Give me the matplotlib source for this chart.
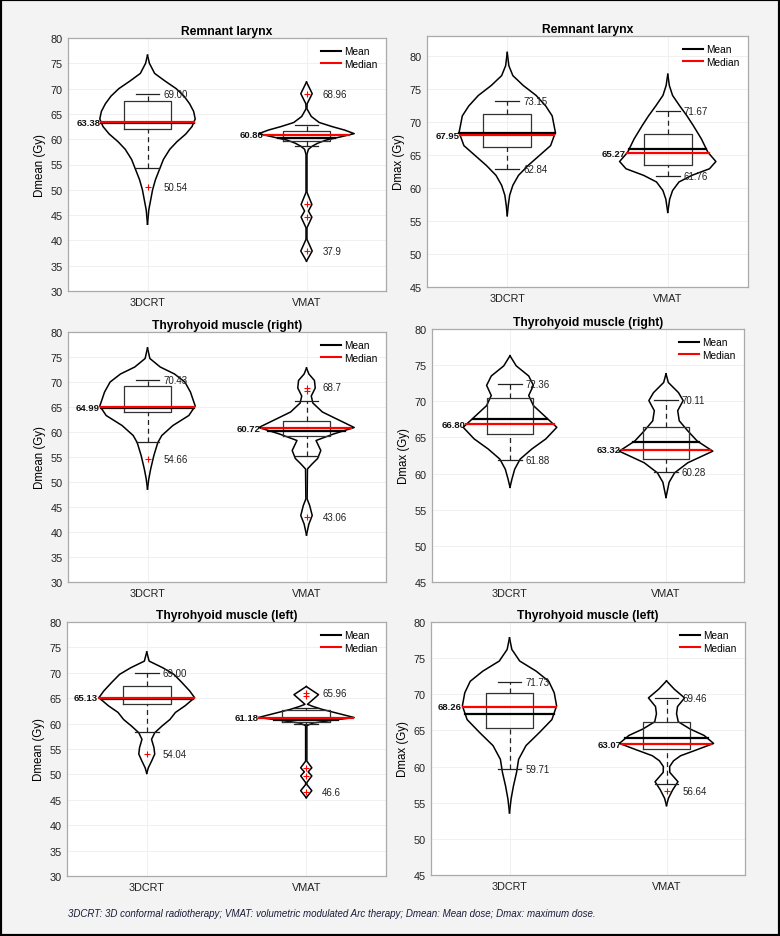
import numpy as np
import matplotlib.pyplot as plt
from matplotlib.lines import Line2D
from matplotlib.patches import Rectangle

plt.rcParams['font.family'] = ['Liberation Sans', 'DejaVu Sans']

groups = ['3DCRT', 'VMAT']
titles = ['Remnant larynx', 'Remnant larynx',
          'Thyrohyoid muscle (right)', 'Thyrohyoid muscle (right)',
          'Thyrohyoid muscle (left)', 'Thyrohyoid muscle (left)']
ylabels = ['Dmean (Gy)', 'Dmax (Gy)'] * 3
caption = ('3DCRT: 3D conformal radiotherapy; VMAT: volumetric modulated Arc therapy; '
           'Dmean: Mean dose; Dmax: maximum dose.')

# violin outlines: dose (Gy) and half width (x units)
# box lists: q1, median, q3, mean, lower whisker, upper whisker
lar_mean_3d_y = [76.6, 75.0, 73.0, 71.5, 70.0, 68.5, 67.0, 65.5, 64.0, 62.5, 61.0, 59.5, 58.0, 56.0, 54.0, 52.0, 50.0, 48.0, 46.0, 43.2]
lar_mean_3d_w = [0, 0.012, 0.045, 0.11, 0.18, 0.23, 0.265, 0.29, 0.30, 0.28, 0.24, 0.185, 0.14, 0.10, 0.075, 0.05, 0.032, 0.02, 0.008, 0]
lar_mean_3d_box = [62.0, 63.38, 67.6, 63.2, 54.3, 69.0]
lar_mean_3d_out = [50.54]
lar_mean_vm_y = [71.3, 69.0, 67.0, 66.0, 64.5, 63.3, 62.5, 61.8, 61.1, 60.5, 59.8, 59.2, 58.6, 58.0, 57.0, 49.5, 47.1, 45.8, 44.6, 42.5, 40.2, 37.9, 35.9]
lar_mean_vm_w = [0, 0.036, 0.004, 0.003, 0.03, 0.08, 0.16, 0.24, 0.30, 0.22, 0.12, 0.07, 0.035, 0.012, 0.003, 0.003, 0.034, 0.012, 0.034, 0.003, 0.003, 0.036, 0]
lar_mean_vm_box = [59.6, 60.86, 61.6, 60.2, 58.6, 62.8]
lar_mean_vm_out = [68.96, 47.1, 44.6, 37.9]

lar_max_3d_y = [80.5, 78.5, 77.0, 75.5, 74.0, 72.4, 70.9, 68.4, 66.4, 64.9, 63.4, 61.9, 60.4, 58.9, 57.3, 55.8]
lar_max_3d_w = [0, 0.01, 0.035, 0.10, 0.18, 0.24, 0.28, 0.30, 0.27, 0.20, 0.13, 0.07, 0.035, 0.015, 0.006, 0]
lar_max_3d_box = [66.25, 67.95, 71.2, 68.3, 62.84, 73.15]
lar_max_3d_out = []
lar_max_vm_y = [77.2, 75.5, 74.0, 72.4, 70.9, 69.4, 67.4, 65.4, 64.0, 62.9, 61.9, 60.9, 59.6, 58.3, 56.3]
lar_max_vm_w = [0, 0.01, 0.03, 0.075, 0.12, 0.16, 0.21, 0.25, 0.30, 0.26, 0.15, 0.07, 0.03, 0.012, 0]
lar_max_vm_box = [63.5, 65.27, 68.2, 65.9, 61.76, 71.67]
lar_max_vm_out = []

thr_mean_3d_y = [76.8, 74.7, 73.0, 71.6, 70.0, 68.0, 65.2, 63.3, 61.3, 59.3, 57.9, 55.3, 52.6, 50.6, 48.6]
thr_mean_3d_w = [0, 0.015, 0.08, 0.17, 0.235, 0.27, 0.30, 0.26, 0.16, 0.09, 0.065, 0.04, 0.02, 0.008, 0]
thr_mean_3d_box = [64.0, 64.99, 69.2, 64.9, 58.1, 70.43]
thr_mean_3d_out = [54.66]
thr_mean_vm_y = [72.8, 71.6, 70.3, 68.8, 67.2, 65.8, 64.0, 62.6, 60.9, 59.6, 58.3, 56.3, 54.7, 53.6, 52.6, 46.6, 45.3, 43.3, 41.6, 39.4]
thr_mean_vm_w = [0, 0.015, 0.05, 0.055, 0.03, 0.04, 0.10, 0.19, 0.30, 0.17, 0.06, 0.09, 0.07, 0.035, 0.006, 0.004, 0.02, 0.036, 0.015, 0]
thr_mean_vm_box = [59.3, 60.72, 62.3, 60.3, 55.3, 66.3]
thr_mean_vm_out = [68.9, 68.2, 43.06]

thr_max_3d_y = [76.3, 74.9, 73.5, 72.2, 70.8, 69.4, 68.0, 66.4, 64.8, 63.4, 62.0, 60.6, 59.2, 58.1]
thr_max_3d_w = [0, 0.04, 0.12, 0.15, 0.12, 0.15, 0.22, 0.30, 0.23, 0.14, 0.065, 0.03, 0.012, 0]
thr_max_3d_box = [65.45, 66.80, 70.5, 67.6, 61.88, 72.36]
thr_max_3d_out = []
thr_max_vm_y = [73.8, 72.6, 71.2, 70.1, 68.7, 67.3, 65.9, 64.5, 63.1, 61.5, 60.1, 58.8, 56.7]
thr_max_vm_w = [0, 0.015, 0.08, 0.11, 0.075, 0.085, 0.14, 0.20, 0.30, 0.14, 0.055, 0.02, 0]
thr_max_vm_box = [62.0, 63.32, 66.4, 64.3, 60.28, 70.11]
thr_max_vm_out = []

thl_mean_3d_y = [74.1, 72.3, 71.0, 69.7, 68.1, 66.4, 65.1, 63.5, 62.2, 60.8, 59.5, 58.2, 56.9, 55.3, 54.0, 52.6, 51.3, 50.2]
thl_mean_3d_w = [0, 0.015, 0.10, 0.17, 0.22, 0.27, 0.30, 0.24, 0.18, 0.145, 0.095, 0.05, 0.03, 0.045, 0.05, 0.03, 0.01, 0]
thl_mean_3d_box = [63.8, 65.13, 67.4, 64.8, 58.35, 69.9]
thl_mean_3d_out = [54.04]
thl_mean_vm_y = [67.3, 65.7, 63.8, 63.4, 62.8, 62.0, 61.2, 60.6, 60.1, 59.6, 52.6, 51.3, 50.5, 49.7, 48.4, 48.0, 46.8, 45.4]
thl_mean_vm_w = [0, 0.077, 0.008, 0.04, 0.10, 0.20, 0.30, 0.15, 0.04, 0.004, 0.004, 0.035, 0.012, 0.035, 0.004, 0.004, 0.035, 0]
thl_mean_vm_box = [60.4, 61.18, 62.6, 60.8, 60.0, 63.0]
thl_mean_vm_out = [66.0, 65.4, 51.3, 49.7, 46.6]

thl_max_3d_y = [77.8, 76.2, 74.6, 73.2, 71.8, 70.2, 68.4, 66.5, 64.7, 62.9, 61.0, 59.2, 57.3, 55.5, 53.6]
thl_max_3d_w = [0, 0.015, 0.065, 0.17, 0.25, 0.285, 0.30, 0.27, 0.19, 0.105, 0.058, 0.045, 0.025, 0.01, 0]
thl_max_3d_box = [65.4, 68.26, 70.2, 67.3, 59.71, 71.73]
thl_max_3d_out = []
thl_max_vm_y = [71.85, 70.7, 69.5, 68.3, 67.3, 66.2, 65.2, 64.3, 63.2, 62.3, 61.5, 60.8, 60.0, 59.2, 57.9, 56.8, 55.6, 54.6]
thl_max_vm_w = [0, 0.05, 0.115, 0.07, 0.064, 0.075, 0.15, 0.24, 0.30, 0.19, 0.09, 0.045, 0.02, 0.021, 0.073, 0.04, 0.012, 0]
thl_max_vm_box = [62.5, 63.07, 66.1, 63.9, 57.6, 69.46]
thl_max_vm_out = [56.64]

# printed extreme values (upper, lower) for 3DCRT and VMAT in each panel
hi_labels = [['69.00', '68.96'], ['73.15', '71.67'], ['70.43', '68.7'],
             ['72.36', '70.11'], ['69.00', '65.96'], ['71.73', '69.46']]
lo_labels = [['50.54', '37.9'], ['62.84', '61.76'], ['54.66', '43.06'],
             ['61.88', '60.28'], ['54.04', '46.6'], ['59.71', '56.64']]

violins = [
    [(lar_mean_3d_y, lar_mean_3d_w, lar_mean_3d_box, lar_mean_3d_out),
     (lar_mean_vm_y, lar_mean_vm_w, lar_mean_vm_box, lar_mean_vm_out)],
    [(lar_max_3d_y, lar_max_3d_w, lar_max_3d_box, lar_max_3d_out),
     (lar_max_vm_y, lar_max_vm_w, lar_max_vm_box, lar_max_vm_out)],
    [(thr_mean_3d_y, thr_mean_3d_w, thr_mean_3d_box, thr_mean_3d_out),
     (thr_mean_vm_y, thr_mean_vm_w, thr_mean_vm_box, thr_mean_vm_out)],
    [(thr_max_3d_y, thr_max_3d_w, thr_max_3d_box, thr_max_3d_out),
     (thr_max_vm_y, thr_max_vm_w, thr_max_vm_box, thr_max_vm_out)],
    [(thl_mean_3d_y, thl_mean_3d_w, thl_mean_3d_box, thl_mean_3d_out),
     (thl_mean_vm_y, thl_mean_vm_w, thl_mean_vm_box, thl_mean_vm_out)],
    [(thl_max_3d_y, thl_max_3d_w, thl_max_3d_box, thl_max_3d_out),
     (thl_max_vm_y, thl_max_vm_w, thl_max_vm_box, thl_max_vm_out)],
]

# axes boxes in pixels: left, top, right, bottom
rects = [(68, 39, 386, 292), (427, 37, 748, 288),
         (68, 333, 386, 583), (432, 330, 744, 583),
         (67, 623, 386, 877), (431, 623, 745, 876)]
ylims = [(30, 80), (45, 83), (30, 80), (45, 80), (30, 80), (45, 80)]
W, H = 780, 937


def draw_violin(ax, xc, yv, wv, box, out, hi_txt, lo_txt):
    yv = np.array(yv)
    wv = np.array(wv)
    ax.plot(xc - wv, yv, color='k', lw=1.1, zorder=3)
    ax.plot(xc + wv, yv, color='k', lw=1.1, zorder=3)
    q1, med, q3, mean, wlo, whi = box
    ax.plot([xc - 0.15, xc + 0.15, xc + 0.15, xc - 0.15, xc - 0.15],
            [q1, q1, q3, q3, q1], color='#333333', lw=0.9, zorder=3)
    ax.plot([xc, xc], [q3, whi], color='#222222', lw=0.9, ls=(0, (4, 3)), zorder=3)
    ax.plot([xc, xc], [wlo, q1], color='#222222', lw=0.9, ls=(0, (4, 3)), zorder=3)
    ax.plot([xc - 0.075, xc + 0.075], [whi, whi], color='#222222', lw=0.9, zorder=3)
    ax.plot([xc - 0.075, xc + 0.075], [wlo, wlo], color='#222222', lw=0.9, zorder=3)
    order = np.argsort(yv)
    hw_mean = np.interp(mean, yv[order], wv[order])
    hw_med = np.interp(med, yv[order], wv[order])
    ax.plot([xc - hw_mean, xc + hw_mean], [mean, mean], color='k', lw=1.6, zorder=4)
    ax.plot([xc - hw_med, xc + hw_med], [med, med], color='red', lw=1.6, zorder=5)
    if out:
        ax.plot([xc] * len(out), out, '+', color='red', ms=4, mew=0.8, zorder=6)
    top = max([whi] + out)
    bot = min([wlo] + out)
    ax.text(xc + 0.1, top, hi_txt, ha='left', va='center', fontsize=7, color='#222222')
    ax.text(xc + 0.1, bot, lo_txt, ha='left', va='center', fontsize=7, color='#222222')
    ax.text(xc - hw_med - 0.005, med, '%.2f' % med, ha='right', va='center',
            fontsize=6.8, fontweight='bold', color='#111111')


fig = plt.figure(figsize=(W / 100, H / 100), dpi=100, facecolor='#f3f3f3')

for i in range(6):
    l, t, r, b = rects[i]
    ax = fig.add_axes([l / W, 1 - b / H, (r - l) / W, (b - t) / H])
    ax.set_facecolor('white')
    for k in range(2):
        yv, wv, box, out = violins[i][k]
        draw_violin(ax, k + 1, yv, wv, box, out, hi_labels[i][k], lo_labels[i][k])
    ax.set_xlim(0.5, 2.5)
    ax.set_ylim(*ylims[i])
    ax.set_xticks([1, 2])
    ax.set_xticklabels(groups)
    ax.set_yticks(np.arange(ylims[i][0], 81, 5))
    ax.tick_params(length=0, pad=4, labelsize=7.8, colors='#222222')
    ax.grid(True, color='#eeeeee', lw=0.6)
    ax.set_axisbelow(True)
    for s in ax.spines.values():
        s.set_color('#aaaaaa')
        s.set_linewidth(0.9)
    ax.set_title(titles[i], fontsize=8.7, fontweight='bold', pad=3)
    ax.set_ylabel(ylabels[i], fontsize=8.3, labelpad=3)
    handles = [Line2D([], [], color='k', lw=1.5), Line2D([], [], color='red', lw=1.5)]
    ax.legend(handles, ['Mean', 'Median'], loc='upper right', frameon=False,
              fontsize=7.3, handlelength=2.0, handletextpad=0.3,
              labelspacing=0.25, borderaxespad=0.4)

fig.text(68 / W, 1 - 914 / H, caption, fontsize=7, style='italic',
         color='#1a1d3a', va='center')
fig.patches.append(Rectangle((0, 0), 1, 1, transform=fig.transFigure, fill=False,
                             ec='black', lw=3))

fig.savefig('out.png', dpi=100, facecolor=fig.get_facecolor())
